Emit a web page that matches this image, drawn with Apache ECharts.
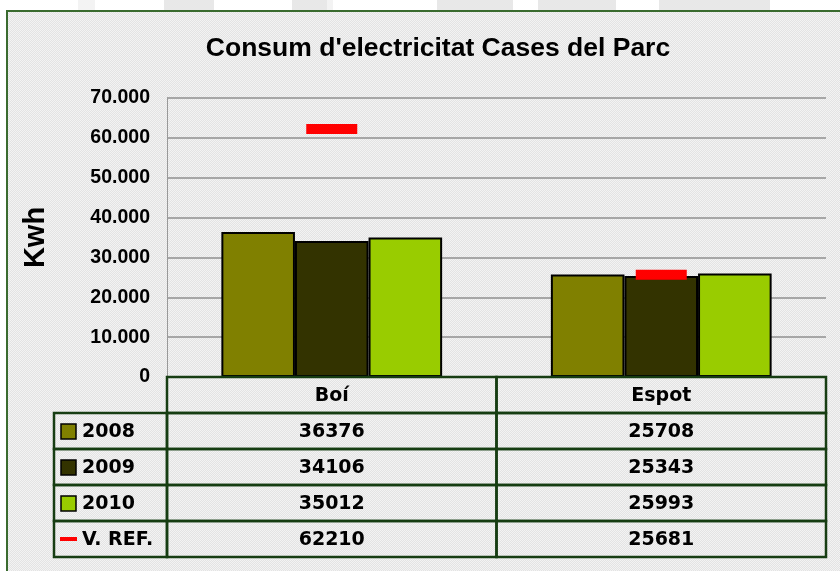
<!DOCTYPE html>
<html lang="ca">
<head>
<meta charset="UTF-8" />
<title>Consum d'electricitat Cases del Parc</title>
<style>
  html, body { margin: 0; padding: 0; background: #ffffff; }
  .blk { position: absolute; top: 0; height: 10px; background: #e8e8e8; }
  #frame {
    position: absolute; left: 6px; top: 10px; width: 840px; height: 570px;
    border-top: 2px solid #3a6b2f; border-left: 2px solid #3a6b2f;
    background: repeating-conic-gradient(#e3e3e3 0 25%, #f3f3f3 0 50%) 0 0 / 2px 2px;
  }
  #chart { position: absolute; left: 0; top: 0; width: 840px; height: 571px; }
</style>
</head>
<body>
<div class="blk" style="left:78px;width:17px;background:#f3f3f3"></div>
<div class="blk" style="left:164px;width:50px"></div>
<div class="blk" style="left:292px;width:35px"></div>
<div class="blk" style="left:327px;width:6px;background:#f3f3f3"></div>
<div class="blk" style="left:437px;width:76px"></div>
<div class="blk" style="left:538px;width:78px"></div>
<div class="blk" style="left:659px;width:111px"></div>
<div id="frame"></div>
<div id="chart"></div>

<script src="https://cdn.jsdelivr.net/npm/echarts@6/dist/echarts.min.js"></script>
<script>
  // dades
  const sites = ['Boí', 'Espot'];
  const years = ['2008', '2009', '2010'];
  const consum2008 = [36376, 25708];
  const consum2009 = [34106, 25343];
  const consum2010 = [35012, 25993];
  const valorRef = [62210, 25681];
  const yearColors = ['#808000', '#333300', '#99cc00'];
  const refColor = '#ff0000';
  const legendNames = ['2008', '2009', '2010', 'V. REF.'];

  const lineGreen = '#163d12';
  const tableFont = 'bold 19px "DejaVu Sans", Verdana, sans-serif';

  const seriesValues = [consum2008, consum2009, consum2010];

  // cel·les de la taula de dades
  const tableRows = ['', ...legendNames];
  const cells = [];
  sites.forEach((s, ci) => {
    cells.push({ col: ci, row: 0, text: s });
    [consum2008, consum2009, consum2010, valorRef].forEach((arr, k) => {
      cells.push({ col: ci, row: k + 1, text: String(arr[ci]) });
    });
  });

  function fmt(v) {
    return String(v).replace(/\B(?=(\d{3})+(?!\d))/g, '.');
  }

  const chart = echarts.init(document.getElementById('chart'));

  const barSeries = years.map((y, i) => ({
    name: y,
    type: 'bar',
    xAxisIndex: 0,
    yAxisIndex: 0,
    data: seriesValues[i],
    barGap: 0,
    barCategoryGap: '33%',
    itemStyle: { color: yearColors[i], borderColor: '#000', borderWidth: 2 },
    z: 2
  }));

  chart.setOption({
    animation: false,
    title: {
      text: "Consum d'electricitat Cases del Parc",
      left: 433,
      top: 30,
      textAlign: 'center',
      textStyle: { fontFamily: '"Liberation Sans", Arial', fontWeight: 'bold', fontSize: 26.5, color: '#000' }
    },
    grid: [
      { left: 167, right: 14, top: 98, height: 279 },
      { left: 167, right: 14, top: 377, height: 180 },
      { left: 54, width: 113, top: 413, height: 144 }
    ],
    xAxis: [
      { gridIndex: 0, type: 'category', data: sites, axisLine: { show: false }, axisTick: { show: false }, axisLabel: { show: false } },
      { gridIndex: 1, type: 'category', data: sites, show: false },
      { gridIndex: 2, type: 'category', data: ['l'], show: false }
    ],
    yAxis: [
      {
        gridIndex: 0, type: 'value', min: 0, max: 70000, interval: 10000,
        name: 'Kwh', nameLocation: 'middle', nameGap: 117, nameRotate: 90,
        nameTextStyle: { fontFamily: '"Liberation Sans", Arial', fontWeight: 'bold', fontSize: 29, color: '#000' },
        axisLine: { show: true, lineStyle: { color: '#999', width: 1 } },
        axisTick: { show: false },
        axisLabel: { formatter: fmt, margin: 17, fontFamily: '"Liberation Sans", Arial', fontWeight: 'bold', fontSize: 19.5, color: '#000' },
        splitLine: { lineStyle: { color: '#8f8f8f', width: 1.5 } }
      },
      { gridIndex: 1, type: 'category', data: tableRows, inverse: true, show: false },
      { gridIndex: 2, type: 'category', data: legendNames, inverse: true, show: false }
    ],
    series: [
      ...barSeries,
      {
        name: 'V. REF.',
        type: 'line',
        xAxisIndex: 0,
        yAxisIndex: 0,
        data: valorRef,
        symbol: 'rect',
        symbolSize: [51, 10],
        lineStyle: { width: 0, opacity: 0 },
        itemStyle: { color: refColor },
        z: 5
      },
      {
        type: 'custom',
        xAxisIndex: 1,
        yAxisIndex: 1,
        data: cells.map(c => [c.col, c.row]),
        renderItem: function (params, api) {
          const c = api.coord([api.value(0), api.value(1)]);
          const s = api.size([1, 1]);
          return {
            type: 'group',
            children: [
              { type: 'rect', shape: { x: c[0] - s[0] / 2, y: c[1] - s[1] / 2, width: s[0], height: s[1] },
                style: { fill: 'none', stroke: lineGreen, lineWidth: 2.5 } },
              { type: 'text', style: { text: cells[params.dataIndex].text, x: c[0], y: c[1] + 1, align: 'center', verticalAlign: 'middle', font: tableFont, fill: '#000' } }
            ]
          };
        },
        z: 6
      },
      {
        type: 'custom',
        xAxisIndex: 2,
        yAxisIndex: 2,
        data: legendNames.map((n, i) => [0, i]),
        renderItem: function (params, api) {
          const i = params.dataIndex;
          const c = api.coord([0, api.value(1)]);
          const s = api.size([1, 1]);
          const x0 = c[0] - s[0] / 2;
          const key = i < 3
            ? { type: 'rect', shape: { x: x0 + 7, y: c[1] - 7, width: 15, height: 15 },
                style: { fill: yearColors[i], stroke: '#000', lineWidth: 1.5 } }
            : { type: 'rect', shape: { x: x0 + 6, y: c[1] - 2, width: 17, height: 4 },
                style: { fill: refColor } };
          return {
            type: 'group',
            children: [
              { type: 'rect', shape: { x: x0, y: c[1] - s[1] / 2, width: s[0], height: s[1] },
                style: { fill: 'none', stroke: lineGreen, lineWidth: 2.5 } },
              key,
              { type: 'text', style: { text: legendNames[i], x: x0 + 28, y: c[1] + 1, align: 'left', verticalAlign: 'middle', font: tableFont, fill: '#000' } }
            ]
          };
        },
        z: 6
      }
    ]
  });
</script>
</body>
</html>
